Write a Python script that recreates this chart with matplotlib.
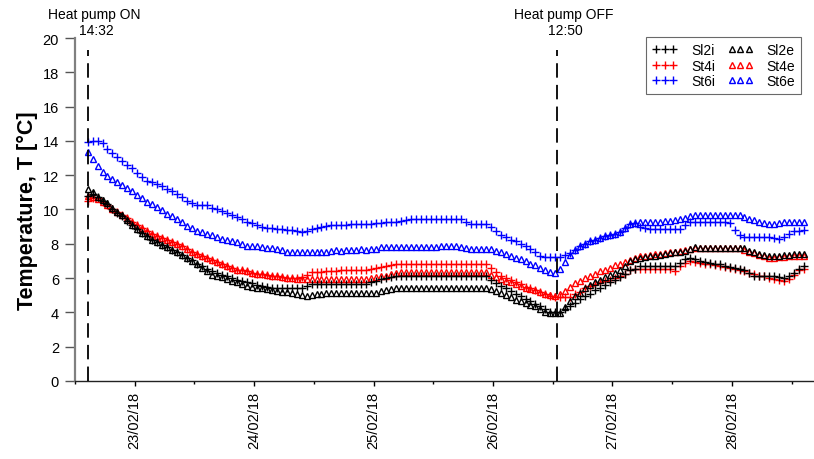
import datetime as dt
import numpy as np
import matplotlib
matplotlib.use("Agg")
import matplotlib.pyplot as plt
import matplotlib.dates as mdates
from matplotlib.lines import Line2D

plt.rcParams['font.family'] = ['Liberation Sans', 'DejaVu Sans']

# ---- data (hourly readings starting at heat pump ON, 22/02/18 14:32) ----
start_time = dt.datetime(2018, 2, 22, 14, 32)
hp_on = dt.datetime(2018, 2, 22, 14, 32)
hp_off = dt.datetime(2018, 2, 26, 12, 50)
series_names = ["Sl2i", "St4i", "St6i", "Sl2e", "St4e", "St6e"]

Sl2i = [10.8, 10.9, 10.75, 10.5, 10.3, 10.05, 9.8, 9.6, 9.35, 9.1,
        8.85, 8.65, 8.45, 8.25, 8.1, 7.95, 7.8, 7.65, 7.5, 7.35,
        7.2, 7.05, 6.85, 6.7, 6.55, 6.4, 6.3, 6.2, 6.1, 6.0,
        5.9, 5.85, 5.75, 5.7, 5.6, 5.55, 5.5, 5.45, 5.4, 5.4,
        5.4, 5.4, 5.4, 5.45, 5.55, 5.65, 5.65, 5.65, 5.65, 5.65,
        5.65, 5.65, 5.65, 5.65, 5.65, 5.65, 5.65, 5.75, 5.85, 5.95,
        6.0, 6.05, 6.1, 6.1, 6.1, 6.1, 6.1, 6.1, 6.1, 6.1,
        6.1, 6.1, 6.1, 6.1, 6.1, 6.1, 6.1, 6.1, 6.1, 6.1,
        6.1, 5.9, 5.7, 5.55, 5.4, 5.25, 5.1, 4.95, 4.8, 4.65,
        4.5, 4.35, 4.2, 4.05, 4.0, 4.0, 4.2, 4.35, 4.55, 4.8,
        4.95, 5.1, 5.3, 5.45, 5.6, 5.75, 5.9, 6.05, 6.25, 6.45,
        6.55, 6.7, 6.7, 6.7, 6.7, 6.7, 6.7, 6.7, 6.7, 6.9,
        7.1, 7.2, 7.1, 7.0, 6.95, 6.9, 6.85, 6.8, 6.7, 6.65,
        6.6, 6.55, 6.45, 6.3, 6.15, 6.15, 6.15, 6.15, 6.15, 6.05,
        6.0, 6.1, 6.3, 6.55, 6.7]

St4i = [10.5, 10.65, 10.65, 10.45, 10.25, 10.05, 9.85, 9.7, 9.5, 9.3,
        9.1, 8.9, 8.75, 8.6, 8.45, 8.35, 8.25, 8.1, 8.0, 7.85,
        7.7, 7.55, 7.4, 7.3, 7.15, 7.05, 6.95, 6.85, 6.7, 6.6,
        6.5, 6.45, 6.4, 6.3, 6.25, 6.25, 6.2, 6.15, 6.1, 6.05,
        6.0, 6.0, 6.0, 6.05, 6.2, 6.35, 6.35, 6.35, 6.4, 6.4,
        6.4, 6.45, 6.45, 6.45, 6.5, 6.5, 6.5, 6.55, 6.6, 6.65,
        6.7, 6.75, 6.8, 6.8, 6.8, 6.8, 6.8, 6.8, 6.8, 6.8,
        6.8, 6.8, 6.8, 6.8, 6.8, 6.8, 6.8, 6.8, 6.8, 6.8,
        6.8, 6.6, 6.35, 6.15, 6.0, 5.9, 5.75, 5.65, 5.5, 5.4,
        5.3, 5.2, 5.05, 4.95, 4.9, 4.9, 4.9, 4.9, 5.05, 5.2,
        5.4, 5.55, 5.65, 5.75, 5.85, 5.9, 6.0, 6.1, 6.25, 6.45,
        6.55, 6.55, 6.55, 6.55, 6.55, 6.55, 6.55, 6.55, 6.4, 6.7,
        6.9, 7.0, 6.95, 6.9, 6.85, 6.8, 6.75, 6.7, 6.65, 6.6,
        6.55, 6.5, 6.4, 6.3, 6.25, 6.15, 6.1, 6.0, 5.95, 5.9,
        5.85, 5.95, 6.2, 6.45, 6.55]

St6i = [13.95, 14.0, 14.0, 13.85, 13.55, 13.3, 13.05, 12.8, 12.6, 12.4,
        12.15, 11.9, 11.65, 11.6, 11.5, 11.35, 11.2, 11.05, 10.9, 10.7,
        10.5, 10.35, 10.25, 10.25, 10.25, 10.1, 10.0, 9.9, 9.8, 9.7,
        9.55, 9.45, 9.3, 9.2, 9.1, 9.0, 8.95, 8.9, 8.85, 8.85,
        8.8, 8.8, 8.75, 8.7, 8.75, 8.85, 8.95, 9.0, 9.05, 9.1,
        9.1, 9.1, 9.1, 9.15, 9.15, 9.15, 9.15, 9.15, 9.2, 9.2,
        9.25, 9.3, 9.3, 9.35, 9.4, 9.45, 9.45, 9.45, 9.45, 9.45,
        9.45, 9.45, 9.45, 9.45, 9.45, 9.45, 9.3, 9.15, 9.15, 9.15,
        9.15, 9.0, 8.75, 8.5, 8.4, 8.25, 8.15, 8.0, 7.85, 7.7,
        7.5, 7.3, 7.25, 7.25, 7.25, 7.25, 7.35, 7.45, 7.65, 7.85,
        8.0, 8.15, 8.25, 8.35, 8.45, 8.5, 8.6, 8.7, 8.9, 9.15,
        9.2, 9.0, 8.9, 8.85, 8.85, 8.85, 8.85, 8.85, 8.85, 8.85,
        9.1, 9.25, 9.3, 9.3, 9.3, 9.3, 9.3, 9.3, 9.3, 9.2,
        8.8, 8.5, 8.4, 8.4, 8.4, 8.4, 8.4, 8.4, 8.35, 8.3,
        8.4, 8.6, 8.75, 8.75, 8.8]

Sl2e = [11.2, 11.0, 10.75, 10.55, 10.35, 10.1, 9.85, 9.65, 9.4, 9.1,
        8.85, 8.65, 8.45, 8.25, 8.1, 7.95, 7.8, 7.65, 7.5, 7.35,
        7.2, 7.0, 6.8, 6.6, 6.4, 6.2, 6.15, 6.05, 5.95, 5.85,
        5.75, 5.65, 5.55, 5.5, 5.45, 5.4, 5.35, 5.3, 5.25, 5.2,
        5.2, 5.15, 5.05, 5.0, 4.95, 5.0, 5.05, 5.1, 5.15, 5.15,
        5.15, 5.15, 5.15, 5.15, 5.15, 5.15, 5.15, 5.15, 5.15, 5.25,
        5.3, 5.35, 5.4, 5.45, 5.45, 5.45, 5.45, 5.45, 5.45, 5.45,
        5.45, 5.45, 5.45, 5.45, 5.45, 5.45, 5.45, 5.45, 5.45, 5.45,
        5.45, 5.35, 5.25, 5.15, 5.0, 4.9, 4.75, 4.65, 4.55, 4.45,
        4.35, 4.2, 4.05, 3.95, 3.95, 3.95, 4.3, 4.65, 4.95, 5.15,
        5.4, 5.6, 5.75, 5.9, 6.05, 6.2, 6.3, 6.45, 6.7, 7.0,
        7.1, 7.2, 7.25, 7.3, 7.3, 7.35, 7.4, 7.45, 7.5, 7.55,
        7.6, 7.7, 7.8, 7.75, 7.75, 7.75, 7.75, 7.75, 7.75, 7.75,
        7.75, 7.75, 7.75, 7.6, 7.5, 7.4, 7.35, 7.3, 7.3, 7.3,
        7.35, 7.35, 7.4, 7.4, 7.4]

St4e = [10.8, 10.75, 10.6, 10.45, 10.25, 10.05, 9.85, 9.7, 9.5, 9.3,
        9.1, 8.9, 8.75, 8.6, 8.45, 8.35, 8.25, 8.1, 8.0, 7.85,
        7.7, 7.55, 7.4, 7.3, 7.15, 7.05, 6.95, 6.85, 6.7, 6.6,
        6.5, 6.45, 6.4, 6.3, 6.25, 6.25, 6.2, 6.15, 6.1, 6.05,
        6.0, 6.0, 5.95, 5.95, 5.95, 5.95, 5.95, 5.95, 5.95, 5.95,
        5.95, 5.95, 5.95, 5.95, 5.95, 5.95, 5.95, 6.0, 6.05, 6.1,
        6.15, 6.25, 6.3, 6.35, 6.35, 6.35, 6.35, 6.35, 6.35, 6.35,
        6.35, 6.35, 6.35, 6.35, 6.35, 6.35, 6.35, 6.35, 6.35, 6.35,
        6.35, 6.2, 6.05, 5.95, 5.85, 5.75, 5.65, 5.55, 5.45, 5.35,
        5.3, 5.2, 5.1, 5.0, 4.95, 5.05, 5.25, 5.5, 5.7, 5.85,
        6.0, 6.15, 6.25, 6.4, 6.5, 6.6, 6.75, 6.85, 6.95, 7.05,
        7.2, 7.3, 7.3, 7.35, 7.4, 7.4, 7.45, 7.5, 7.55, 7.6,
        7.65, 7.7, 7.75, 7.75, 7.75, 7.75, 7.75, 7.75, 7.75, 7.75,
        7.75, 7.75, 7.65, 7.55, 7.45, 7.35, 7.3, 7.2, 7.2, 7.25,
        7.25, 7.3, 7.3, 7.3, 7.3]

St6e = [13.35, 12.95, 12.55, 12.2, 11.95, 11.75, 11.6, 11.45, 11.25, 11.05,
        10.85, 10.65, 10.45, 10.3, 10.15, 9.95, 9.75, 9.6, 9.45, 9.25,
        9.05, 8.9, 8.75, 8.7, 8.6, 8.5, 8.4, 8.3, 8.25, 8.15,
        8.1, 8.0, 7.9, 7.85, 7.85, 7.8, 7.75, 7.75, 7.7, 7.65,
        7.55, 7.5, 7.5, 7.5, 7.5, 7.5, 7.5, 7.5, 7.55, 7.6,
        7.65, 7.6, 7.65, 7.65, 7.65, 7.7, 7.65, 7.7, 7.7, 7.8,
        7.8, 7.8, 7.8, 7.8, 7.8, 7.8, 7.8, 7.8, 7.8, 7.8,
        7.8, 7.85, 7.9, 7.9, 7.85, 7.8, 7.75, 7.7, 7.7, 7.7,
        7.7, 7.7, 7.6, 7.5, 7.4, 7.3, 7.2, 7.1, 7.0, 6.85,
        6.75, 6.6, 6.45, 6.35, 6.3, 6.55, 6.95, 7.35, 7.65, 7.85,
        8.0, 8.15, 8.25, 8.35, 8.45, 8.5, 8.6, 8.7, 8.95, 9.15,
        9.2, 9.25, 9.3, 9.3, 9.3, 9.3, 9.35, 9.35, 9.4, 9.45,
        9.5, 9.6, 9.7, 9.7, 9.7, 9.7, 9.7, 9.7, 9.7, 9.7,
        9.7, 9.7, 9.55, 9.45, 9.4, 9.3, 9.2, 9.15, 9.15, 9.2,
        9.25, 9.25, 9.3, 9.3, 9.3]

day_ticks = [dt.datetime(2018, 2, d) for d in range(23, 29)]
y_ticks = [0, 2, 4, 6, 8, 10, 12, 14, 16, 18, 20]


def times_for(values):
    return [start_time + dt.timedelta(hours=i) for i in range(len(values))]


fig = plt.figure(figsize=(8.14, 4.6), dpi=100)
ax = fig.add_axes([0.0921, 0.1696, 0.9079, 0.7456])

plus_kw = dict(linestyle='none', marker='+', markersize=6, markeredgewidth=1.0)
tri_kw = dict(linestyle='none', marker='^', markersize=4, markerfacecolor='none',
              markeredgewidth=1.0)

ax.plot(times_for(St6i), St6i, color='#0000ff', **plus_kw)
ax.plot(times_for(St6e), St6e, color='#0000ff', **tri_kw)
ax.plot(times_for(St4i), St4i, color='#ff0000', **plus_kw)
ax.plot(times_for(St4e), St4e, color='#ff0000', **tri_kw)
ax.plot(times_for(Sl2i), Sl2i, color='black', **plus_kw)
ax.plot(times_for(Sl2e), Sl2e, color='black', **tri_kw)

# heat pump ON / OFF markers
for t in (hp_on, hp_off):
    ax.plot([t, t], [0, 19.3], color='black', lw=1.3, linestyle=(0, (8, 4)),
            clip_on=False, zorder=5)

for t, line1, line2 in ((hp_on, "Heat pump ON", "14:32"),
                        (hp_off, "Heat pump OFF", "12:50")):
    ax.annotate(line1, xy=(mdates.date2num(t), 1.0),
                xycoords=('data', 'axes fraction'), xytext=(5, 12.5),
                textcoords='offset points', ha='center', va='bottom',
                fontsize=10, annotation_clip=False)
    ax.annotate(line2, xy=(mdates.date2num(t), 1.0),
                xycoords=('data', 'axes fraction'), xytext=(6, 1),
                textcoords='offset points', ha='center', va='bottom',
                fontsize=10, annotation_clip=False)

ax.set_ylim(0, 20)
ax.set_yticks(y_ticks)
ax.set_xlim(dt.datetime(2018, 2, 22, 12, 0), dt.datetime(2018, 2, 28, 16, 30))
ax.set_xticks(day_ticks)
ax.xaxis.set_major_formatter(mdates.DateFormatter('%d/%m/%y'))
ax.xaxis.set_minor_locator(mdates.HourLocator(byhour=[12]))
for lab in ax.get_xticklabels():
    lab.set_rotation(90)

ax.tick_params(axis='both', which='major', labelsize=10.5, direction='out',
               width=1, colors='black')
ax.tick_params(axis='x', which='major', length=3.5)
ax.tick_params(axis='x', which='minor', direction='out', length=2, width=1)
ax.tick_params(axis='y', which='major', length=7, pad=4.5, color='#555555')

ax.spines['top'].set_visible(False)
ax.spines['right'].set_visible(False)
ax.spines['left'].set_color('#808080')
ax.spines['left'].set_linewidth(1.6)
ax.spines['bottom'].set_color('#222222')
ax.spines['bottom'].set_linewidth(1.0)

ax.set_ylabel("Temperature, T [°C]", fontsize=15.5, fontweight='bold', labelpad=3)

handles = [
    Line2D([], [], color='black', **plus_kw),
    Line2D([], [], color='#ff0000', **plus_kw),
    Line2D([], [], color='#0000ff', **plus_kw),
    Line2D([], [], color='black', **tri_kw),
    Line2D([], [], color='#ff0000', **tri_kw),
    Line2D([], [], color='#0000ff', **tri_kw),
]
leg = ax.legend(handles, series_names, loc='upper right', ncol=2, numpoints=3,
                fontsize=10, frameon=True, fancybox=False, handlelength=1.8,
                handletextpad=1.0, columnspacing=0.9, labelspacing=0.1,
                borderpad=0.45, borderaxespad=0.0, bbox_to_anchor=(0.983, 1.003))
leg.get_frame().set_edgecolor('#444444')
leg.get_frame().set_linewidth(0.8)

fig.savefig("out.png", dpi=100)
